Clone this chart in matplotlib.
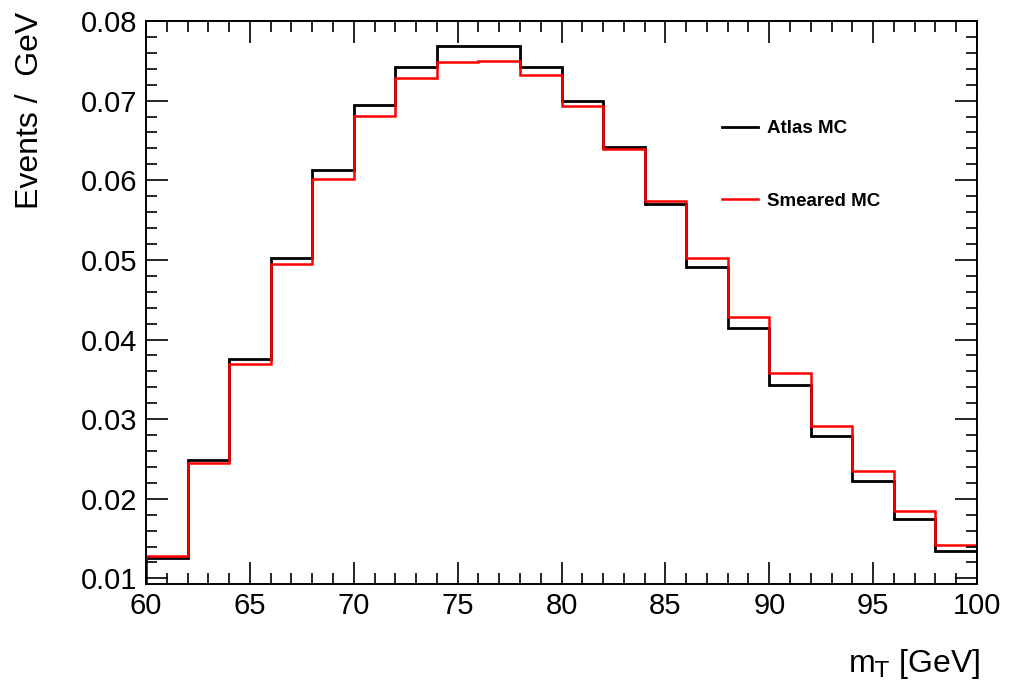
import numpy as np
import matplotlib.pyplot as plt
from matplotlib.ticker import MultipleLocator

plt.rcParams['font.family'] = ['Liberation Sans', 'DejaVu Sans']

# bin edges in GeV
edges = np.arange(60, 102, 2)
# normalised histograms (Events / GeV)
atlas_mc = [0.01257, 0.02482, 0.03758, 0.05021, 0.06129, 0.06946, 0.07427, 0.07686, 0.07686, 0.07427,
            0.06996, 0.06414, 0.05699, 0.04916, 0.04151, 0.03432, 0.02792, 0.02227, 0.01747, 0.01340]
smeared_mc = [0.01286, 0.02449, 0.03691, 0.04950, 0.06016, 0.06808, 0.07281, 0.07489, 0.07498, 0.07324,
              0.06937, 0.06389, 0.05740, 0.05021, 0.04289, 0.03579, 0.02917, 0.02353, 0.01842, 0.01424]

fig = plt.figure(figsize=(10.09, 6.88), dpi=100)
ax = fig.add_axes([146 / 1009, 1 - 584 / 688, (977 - 146) / 1009, (584 - 21) / 688])

ax.stairs(atlas_mc, edges, color='black', linewidth=2.0, label='Atlas MC')
ax.stairs(smeared_mc, edges, color='#ff0000', linewidth=1.8, label='Smeared MC')

ax.set_xlim(60, 100)
ax.set_ylim(0.0093, 0.08)
ax.xaxis.set_major_locator(MultipleLocator(5))
ax.xaxis.set_minor_locator(MultipleLocator(1))
ax.yaxis.set_minor_locator(MultipleLocator(0.002))
ax.set_yticks([0.01, 0.02, 0.03, 0.04, 0.05, 0.06, 0.07, 0.08])
ax.set_yticklabels(['0.01', '0.02', '0.03', '0.04', '0.05', '0.06', '0.07', '0.08'])
ax.tick_params(which='both', direction='in', top=True, right=True, labelsize=21, width=1.2)
ax.tick_params(which='major', length=16, pad=6)
ax.tick_params(which='minor', length=8)
for s in ax.spines.values():
    s.set_linewidth(1.4)

ax.set_ylabel('Events /  GeV', fontsize=23, loc='top')
ax.yaxis.set_label_coords(-0.122, 1.016)
ax.set_xlabel(r'm$_{\mathrm{T}}$ [GeV]', fontsize=23, loc='right')
ax.xaxis.set_label_coords(1.004, -0.112)

leg = ax.legend(loc='upper left', bbox_to_anchor=(0.673, 0.854), frameon=False,
                prop={'weight': 'bold', 'size': 13.5}, labelspacing=2.95,
                handlelength=1.9, handletextpad=0.5)

fig.savefig('out.png', dpi=100)
